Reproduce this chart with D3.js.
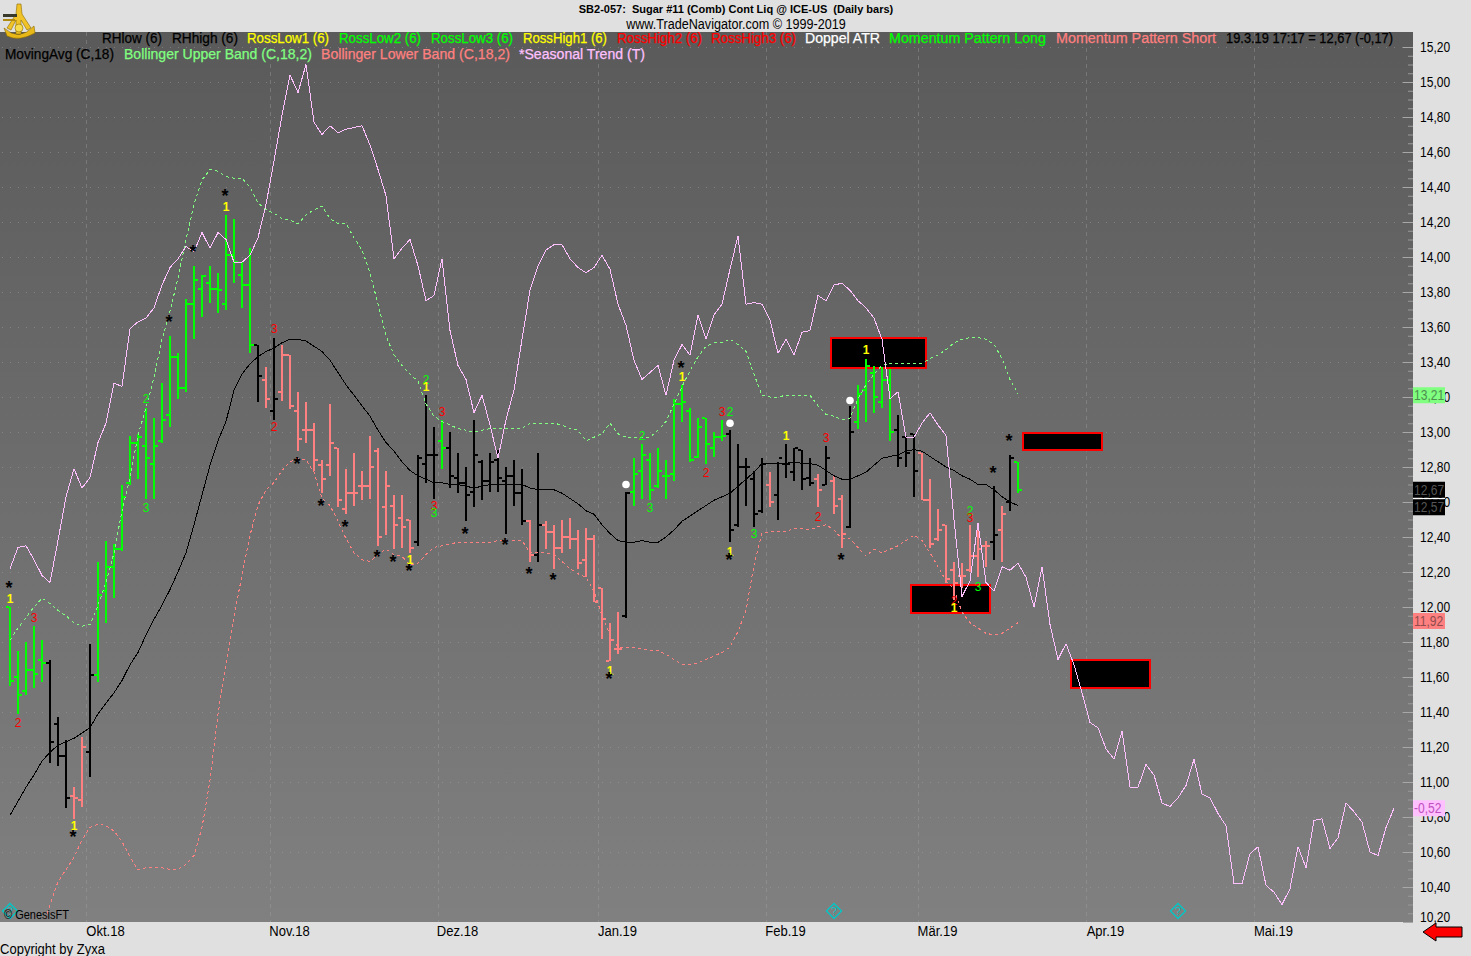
<!DOCTYPE html>
<html><head><meta charset="utf-8">
<script src="https://cdn.jsdelivr.net/npm/d3@7"></script>
<style>
html,body{margin:0;padding:0;background:#e0e0e0;overflow:hidden}
svg{display:block}
text{font-family:"Liberation Sans",Arial,sans-serif;white-space:pre}
</style></head><body>
<svg id="c" width="1471" height="956"></svg>
<script>
const highs=[12.00,11.75,11.80,11.89,11.81,11.70,11.37,11.24,10.97,11.26,11.79,12.26,12.38,12.36,12.70,12.98,12.99,13.14,13.08,13.28,13.55,13.45,13.76,13.95,13.90,13.95,13.91,14.24,14.22,13.97,14.05,13.50,13.37,13.54,13.50,13.44,13.23,13.17,13.05,12.84,13.16,12.91,12.79,12.88,12.78,12.98,12.91,12.78,12.64,12.64,12.50,12.87,13.21,13.03,13.07,13.00,12.88,12.80,13.07,12.84,12.88,12.90,12.80,12.84,12.79,12.50,12.88,12.49,12.47,12.50,12.51,12.44,12.45,12.41,12.11,11.91,11.97,12.66,12.85,12.93,12.88,12.91,12.84,13.19,13.27,13.14,13.08,13.08,13.00,13.07,13.01,12.93,12.85,12.78,12.85,12.77,12.83,12.93,12.91,12.90,12.85,12.76,12.92,12.75,12.64,13.15,13.27,13.42,13.38,13.37,13.36,13.10,12.98,12.99,12.88,12.73,12.56,12.47,12.26,12.25,12.47,12.46,12.38,12.69,12.58,12.87,12.83];
const lows=[11.55,11.39,11.50,11.54,11.57,11.11,11.09,10.85,10.79,10.86,11.03,11.57,11.91,12.05,12.32,12.70,12.73,12.62,12.62,12.94,13.03,13.19,13.23,13.53,13.66,13.74,13.68,13.70,13.85,13.71,13.45,13.17,13.14,13.07,13.18,13.13,12.89,12.94,12.78,12.65,12.75,12.57,12.53,12.58,12.61,12.62,12.35,12.41,12.33,12.34,12.31,12.35,12.71,12.62,12.79,12.68,12.65,12.49,12.57,12.61,12.66,12.66,12.42,12.58,12.47,12.26,12.26,12.33,12.22,12.31,12.33,12.22,12.17,12.03,11.82,11.69,11.73,11.94,12.58,12.62,12.61,12.68,12.62,12.72,13.06,12.83,12.85,12.82,12.86,12.95,12.37,12.46,12.58,12.46,12.54,12.57,12.50,12.74,12.72,12.67,12.69,12.57,12.70,12.53,12.34,12.45,13.02,13.06,13.11,13.14,12.95,12.80,12.80,12.63,12.61,12.34,12.38,12.14,12.04,12.11,12.20,12.17,12.23,12.27,12.26,12.55,12.65];
const opens=[12.00,11.60,11.52,11.64,11.70,11.68,11.33,11.15,10.92,10.90,11.17,11.61,12.09,12.23,12.33,12.71,12.94,12.92,12.82,12.95,13.10,13.43,13.25,13.73,13.82,13.85,13.82,13.73,14.01,13.90,13.84,13.50,13.30,13.12,13.23,13.44,13.12,13.01,13.01,12.81,12.81,12.91,12.56,12.65,12.69,12.69,12.89,12.57,12.58,12.51,12.50,12.37,12.82,12.87,12.95,12.91,12.74,12.71,12.66,12.83,12.72,12.84,12.72,12.75,12.65,12.49,12.30,12.47,12.43,12.34,12.40,12.39,12.27,12.39,12.11,11.69,11.76,11.95,12.66,12.78,12.84,12.69,12.75,12.76,13.16,13.12,12.86,13.08,12.91,12.97,12.99,12.47,12.80,12.73,12.55,12.70,12.64,12.82,12.77,12.90,12.74,12.73,12.70,12.72,12.62,12.46,13.06,13.24,13.34,13.17,13.30,13.01,12.97,12.99,12.88,12.61,12.39,12.47,12.21,12.18,12.21,12.29,12.35,12.37,12.44,12.60,12.83];
const closes=[11.58,11.50,11.64,11.62,11.68,11.23,11.15,10.91,10.91,11.20,11.61,12.07,12.23,12.33,12.63,12.94,12.97,12.85,12.92,13.07,13.43,13.25,13.73,13.87,13.89,13.82,13.81,14.01,13.97,13.84,13.50,13.32,13.19,13.19,13.44,13.15,12.96,13.01,12.84,12.73,12.94,12.61,12.65,12.65,12.69,12.80,12.40,12.69,12.47,12.46,12.34,12.85,12.87,12.87,12.91,12.75,12.71,12.64,12.87,12.72,12.83,12.74,12.75,12.65,12.49,12.30,12.47,12.43,12.34,12.40,12.39,12.25,12.39,12.03,11.93,11.81,11.76,12.65,12.76,12.87,12.67,12.78,12.75,13.16,13.17,12.84,13.03,12.93,12.97,12.98,12.44,12.80,12.80,12.53,12.82,12.60,12.85,12.82,12.91,12.73,12.71,12.67,12.85,12.58,12.42,13.00,13.22,13.38,13.20,13.30,13.00,12.85,12.88,12.78,12.61,12.36,12.44,12.16,12.14,12.18,12.29,12.33,12.35,12.41,12.53,12.85,12.67];
const barStates=("ggggg"+"kkk"+"ss"+"k"+"gggggggggggggggggggg"+"k"+"s"+"k"+"sssssssssssssssss"+"kkk"+"g"+"kkkkkkkkkk"+"s"+"k"+"ssssssssss"+"k"+"gggggggggggg"+"kkkkk"+"s"+"kkkkk"+"s"+"k"+"ss"+"k"+"ggggg"+"kkk"+"sssssssss"+"k"+"s"+"k"+"g").split("");
const movingAvg=[10.81,10.89,10.97,11.04,11.12,11.17,11.21,11.23,11.25,11.28,11.31,11.39,11.45,11.51,11.58,11.67,11.74,11.84,11.93,12.01,12.10,12.20,12.31,12.47,12.64,12.81,12.95,13.06,13.24,13.33,13.39,13.43,13.46,13.48,13.51,13.53,13.53,13.52,13.49,13.46,13.41,13.34,13.27,13.21,13.15,13.09,13.01,12.94,12.89,12.83,12.78,12.75,12.73,12.71,12.71,12.70,12.70,12.69,12.68,12.69,12.70,12.70,12.70,12.70,12.70,12.68,12.67,12.67,12.67,12.65,12.62,12.59,12.55,12.53,12.47,12.42,12.38,12.37,12.37,12.38,12.37,12.37,12.40,12.44,12.49,12.52,12.55,12.58,12.61,12.63,12.65,12.69,12.73,12.77,12.82,12.82,12.82,12.82,12.83,12.82,12.82,12.81,12.78,12.75,12.73,12.73,12.75,12.77,12.81,12.85,12.86,12.87,12.89,12.90,12.89,12.86,12.83,12.80,12.78,12.75,12.73,12.70,12.70,12.67,12.63,12.60,12.58];
const upperBand=[11.81,11.88,11.94,12.00,12.05,12.02,11.98,11.95,11.91,11.89,11.90,12.01,12.14,12.31,12.55,12.74,12.98,13.14,13.31,13.53,13.69,13.88,14.10,14.30,14.44,14.50,14.49,14.46,14.45,14.45,14.40,14.31,14.27,14.25,14.22,14.21,14.19,14.24,14.27,14.29,14.22,14.19,14.19,14.11,14.04,13.91,13.73,13.55,13.44,13.38,13.33,13.29,13.16,13.09,13.06,13.04,13.02,13.01,13.00,13.01,13.02,13.02,13.02,13.02,13.02,13.05,13.05,13.05,13.05,13.04,13.02,13.01,12.95,12.97,12.99,13.05,12.99,12.97,12.97,12.97,12.97,13.01,13.06,13.16,13.26,13.35,13.43,13.49,13.51,13.51,13.53,13.50,13.46,13.33,13.21,13.20,13.20,13.21,13.21,13.21,13.21,13.15,13.10,13.09,13.07,13.08,13.19,13.27,13.33,13.38,13.39,13.39,13.39,13.39,13.39,13.42,13.44,13.47,13.51,13.53,13.54,13.54,13.53,13.50,13.42,13.30,13.22];
const lowerBand=[null,null,null,null,10.15,10.30,10.43,10.50,10.57,10.67,10.74,10.76,10.75,10.72,10.66,10.57,10.50,10.51,10.51,10.51,10.50,10.50,10.53,10.58,10.74,11.01,11.39,11.67,11.95,12.18,12.41,12.58,12.67,12.71,12.78,12.83,12.85,12.84,12.77,12.62,12.58,12.49,12.39,12.31,12.27,12.26,12.30,12.33,12.30,12.29,12.24,12.25,12.30,12.34,12.35,12.36,12.37,12.37,12.37,12.37,12.37,12.38,12.38,12.38,12.38,12.31,12.31,12.31,12.30,12.26,12.22,12.19,12.17,12.09,11.95,11.84,11.77,11.77,11.77,11.76,11.75,11.75,11.73,11.70,11.67,11.67,11.68,11.70,11.72,11.74,11.77,11.86,11.98,12.24,12.42,12.43,12.43,12.43,12.45,12.45,12.44,12.46,12.47,12.44,12.39,12.39,12.34,12.29,12.33,12.31,12.33,12.35,12.38,12.41,12.38,12.31,12.23,12.15,12.10,11.97,11.91,11.88,11.85,11.84,11.85,11.88,11.91];
const seasonal=[12.22,12.34,12.35,12.27,12.18,12.14,12.38,12.63,12.79,12.68,12.74,12.94,13.05,13.28,13.26,13.59,13.63,13.65,13.71,13.84,13.94,13.99,14.06,14.03,14.14,14.05,14.14,14.10,13.97,13.97,14.01,14.11,14.30,14.55,14.81,15.04,14.94,15.10,14.77,14.70,14.75,14.71,14.73,14.74,14.75,14.64,14.50,14.35,13.99,14.05,14.10,13.95,13.75,13.78,13.99,13.58,13.38,13.30,13.11,13.21,13.04,12.85,13.07,13.24,13.53,13.81,13.95,14.04,14.07,14.07,13.99,13.94,13.91,13.94,14.01,13.93,13.73,13.61,13.41,13.30,13.34,13.38,13.21,13.41,13.50,13.44,13.67,13.53,13.67,13.73,13.93,14.12,13.73,13.74,13.73,13.64,13.45,13.53,13.44,13.57,13.58,13.78,13.75,13.84,13.85,13.81,13.75,13.71,13.65,13.53,13.19,13.23,12.97,12.97,13.05,13.11,13.04,12.98,12.50,12.06,12.15,12.48,12.14,12.09,12.23,12.21,12.25,12.17,12.00,12.23,11.90,11.70,11.79,11.67,11.51,11.34,11.31,11.19,11.13,11.29,10.97,10.97,11.10,11.04,10.88,10.86,10.91,10.98,11.13,10.93,10.91,10.82,10.75,10.42,10.42,10.59,10.63,10.41,10.37,10.30,10.39,10.63,10.51,10.78,10.79,10.62,10.68,10.88,10.83,10.77,10.60,10.58,10.74,10.85];
const rossIdx=[0,3,1,8,27,17,17,33,33,50,52,52,54,53,53,75,84,79,80,89,90,87,90,97,102,101,93,107,120,120,121,118,118];
const rossPrice=[12.05,11.94,11.34,10.75,14.29,13.19,12.57,13.59,13.03,12.27,13.30,13.26,13.12,12.58,12.54,11.64,13.32,12.98,12.57,13.12,13.12,12.77,12.32,12.98,12.97,12.52,12.42,13.47,12.55,12.51,12.12,12.04,12.00];
const rossText=["1","3","2","1","1","2","3","3","2","1","2","1","3","3","3","1","1","2","3","3","2","2","1","1","3","2","3","1","2","3","3","2","1"];
const rossKind=["y","r","r","y","y","g","g","r","r","y","g","y","r","r","g","y","y","g","g","r","g","r","y","y","r","r","g","y","g","r","g","r","y"];
const starIdx=[0,8,27,20,23,36,39,42,46,48,50,57,62,65,68,75,84,90,104,123,125];
const starPrice=[12.13,10.71,14.37,13.65,14.05,12.84,12.60,12.48,12.31,12.28,12.23,12.44,12.38,12.21,12.18,11.61,13.39,12.29,12.29,12.79,12.97];
const dotIdx=[77,90,105];
const dotPrice=[12.70,13.05,13.18];
const boxFrom=[103,113,127,133];
const boxTo=[114,122,136,142];
const boxTop=[13.54,12.13,13.00,11.70];
const boxBottom=[13.37,11.97,12.90,11.54];
const diamondIdx=[0,103,146];
const yTicks=[15.2,15,14.8,14.6,14.4,14.2,14,13.8,13.6,13.4,13.2,13,12.8,12.6,12.4,12.2,12,11.8,11.6,11.4,11.2,11,10.8,10.6,10.4,10.2];
const monthIdx=[10,33,54,74,95,114,135,156];
const monthLabels=["Okt.18","Nov.18","Dez.18","Jan.19","Feb.19","Mär.19","Apr.19","Mai.19"];
const legendRow1=["RHlow (6)","RHhigh (6)","RossLow1 (6)","RossLow2 (6)","RossLow3 (6)","RossHigh1 (6)","RossHigh2 (6)","RossHigh3 (6)","Doppel ATR","Momentum Pattern Long","Momentum Pattern Short","19.3.19 17:17 = 12,67 (-0,17)"];
const legendRow1Colors=["#000","#000","#ffff00","#00ff00","#00ff00","#ffff00","#ff0000","#ff0000","#fff","#00ff00","#ff8080","#000"];
const legendRow1X=[102,172,247,339,431,523,617,711,805,889,1056,1226];
const legendRow1W=[60,66,82,82,82,84,85,85,75,157,160,167];
const legendRow2=["MovingAvg (C,18)","Bollinger Upper Band (C,18,2)","Bollinger Lower Band (C,18,2)","*Seasonal Trend (T)"];
const legendRow2Colors=["#000","#80ff80","#ff8080","#ffc0ff"];
const legendRow2X=[5,124,321,519];
const legendRow2W=[109,188,189,126];
const priceTagValues=["13,21","12,67","12,57","11,92","-0,52"];
const priceTagPrices=[13.21,12.67,12.57,11.92,10.85];
const priceTagBg=["#80ff80","#000","#000","#ff8080","#ffc0ff"];
const priceTagFg=["#4d8f4d","#555","#555","#8f4d4d","#c050c0"];

const W=1413,T=32,B=922;
const x=d3.scaleLinear().domain([0,1]).range([10,18]);
const y=d3.scaleLinear().domain([15.2,14.2]).range([47,222]);
const svg=d3.select("#c");
const defs=svg.append("defs");
const gr=defs.append("linearGradient").attr("id","bg").attr("x1",0).attr("x2",0).attr("y1",0).attr("y2",1);
gr.append("stop").attr("offset",0).attr("stop-color","#5a5a5a");
gr.append("stop").attr("offset",1).attr("stop-color","#808080");
defs.append("clipPath").attr("id","plot").append("rect").attr("x",0).attr("y",T).attr("width",W).attr("height",B-T);
svg.append("rect").attr("width",1471).attr("height",956).attr("fill","#e0e0e0");
svg.append("rect").attr("x",0).attr("y",T).attr("width",W).attr("height",B-T).attr("fill","url(#bg)");

// grid
const grid=svg.append("g").attr("shape-rendering","crispEdges");
grid.selectAll(".h").data(yTicks.slice(0,-1)).join("line").attr("x1",2).attr("x2",W).attr("y1",d=>y(d)).attr("y2",d=>y(d))
 .attr("stroke","#a0a0a0").attr("stroke-opacity",.5).attr("stroke-dasharray","1 7");
grid.selectAll(".v").data(monthIdx).join("line").attr("x1",d=>x(d)-3.5).attr("x2",d=>x(d)-3.5).attr("y1",T).attr("y2",B)
 .attr("stroke","#a8a8a8").attr("stroke-opacity",.35).attr("stroke-dasharray","4 4");

const plot=svg.append("g").attr("clip-path","url(#plot)");
// boxes
plot.selectAll(".box").data(boxFrom).join("rect").attr("shape-rendering","crispEdges")
 .attr("x",(d,i)=>x(d)-3.5).attr("width",(d,i)=>x(boxTo[i])-x(d)+7)
 .attr("y",(d,i)=>y(boxTop[i])+.5).attr("height",(d,i)=>y(boxBottom[i])-y(boxTop[i]))
 .attr("fill","#000").attr("stroke","#f00").attr("stroke-width",2);

// bars
const barColor={g:"#00ff00",k:"#000",s:"#ff8080"};
const bars=plot.append("g").attr("shape-rendering","crispEdges");
highs.forEach((h,i)=>{
 const c=barColor[barStates[i]],g=bars.append("g").attr("fill",c),X=Math.round(x(i));
 g.append("rect").attr("x",X-1).attr("width",2).attr("y",y(h)).attr("height",y(lows[i])-y(h));
 g.append("rect").attr("x",X-4).attr("width",3).attr("y",y(opens[i])-1).attr("height",2);
 g.append("rect").attr("x",X+1).attr("width",3).attr("y",y(closes[i])-1).attr("height",2);
});

// lines
const line=d3.line().defined(d=>d!==null).x((d,i)=>x(i)).y(d=>y(d));
function drawLine(data,color,dash){
 const p=plot.append("path").attr("d",line(data)).attr("fill","none").attr("stroke",color).attr("stroke-width",1).attr("shape-rendering","crispEdges");
 if(dash)p.attr("stroke-dasharray",dash);
 return p;
}
drawLine(upperBand,"#80ff80","3 3");
drawLine(lowerBand,"#ff8080","3 3");
drawLine(movingAvg,"#000");
drawLine(seasonal,"#ffc0ff");

// Ross labels
const rossColor={y:"#ffff00",r:"#ff0000",g:"#00ff00"};
plot.selectAll(".ross").data(rossIdx).join("text").attr("x",d=>x(d)).attr("y",(d,i)=>y(rossPrice[i])+4.5)
 .attr("text-anchor","middle").attr("font-size",12).attr("font-weight",(d,i)=>rossKind[i]==="y"?"bold":"normal")
 .attr("fill",(d,i)=>rossColor[rossKind[i]]).text((d,i)=>rossText[i]);
// stars
plot.selectAll(".star").data(starIdx).join("text").attr("x",d=>x(d)-1).attr("y",(d,i)=>y(starPrice[i])+10)
 .attr("text-anchor","middle").attr("font-size",18).attr("font-weight","bold").attr("fill","#000").text("*");
// dots
plot.selectAll(".dot").data(dotIdx).join("circle").attr("cx",d=>x(d)).attr("cy",(d,i)=>y(dotPrice[i])).attr("r",3.8).attr("fill","#fff");
// diamonds
const dg=plot.selectAll(".dia").data(diamondIdx).join("g").attr("transform",d=>`translate(${x(d)},911)`);
dg.append("path").attr("d","M0,-7.5L7.5,0L0,7.5L-7.5,0Z").attr("fill","none").attr("stroke","#00c8c8").attr("stroke-width",1.3);
dg.append("text").attr("text-anchor","middle").attr("y",3.5).attr("font-size",10).attr("fill","#00c8c8").text("?");

svg.append("text").attr("x",4).attr("y",919).attr("font-size",12).attr("fill","#000").attr("textLength",65).attr("lengthAdjust","spacingAndGlyphs").text("© GenesisFT");

function squeeze(sel,f){sel.each(function(){const l=this.getComputedTextLength();d3.select(this).attr("textLength",l*f).attr("lengthAdjust","spacingAndGlyphs");});}

// y axis
const axMinor=d3.axisRight(y).tickValues(d3.range(10.2,15.2001,.05)).tickSize(-5).tickFormat("");
const gm=svg.append("g").attr("transform",`translate(${W},0)`).call(axMinor);
gm.select(".domain").remove();gm.selectAll("line").attr("stroke","#9a9a9a");
const axMajor=d3.axisRight(y).tickValues(yTicks).tickSize(-10).tickPadding(7).tickFormat(d=>d3.format(".2f")(d).replace(".",","));
const gy=svg.append("g").attr("transform",`translate(${W},0)`).call(axMajor);
gy.select(".domain").remove();gy.selectAll("line").attr("stroke","#a8a8a8");
gy.selectAll("text").attr("font-size",14).attr("font-family","Liberation Sans").attr("fill","#000").call(squeeze,.86);
gy.selectAll(".tick").filter(d=>d===10.2).select("text").attr("y",-5);

// x axis
const axX=d3.axisBottom(x).tickValues(monthIdx).tickSize(0).tickPadding(4).tickFormat((d,i)=>monthLabels[i]);
const gx=svg.append("g").attr("transform",`translate(0,${B})`).call(axX);
gx.select(".domain").remove();
gx.selectAll("text").attr("x",15).attr("font-size",14).attr("font-family","Liberation Sans").attr("fill","#000").call(squeeze,.93);

// price tags
const tag=svg.selectAll(".tag").data(priceTagValues).join("g").attr("transform",(d,i)=>`translate(${W},${y(priceTagPrices[i])})`);
tag.append("rect").attr("x",0).attr("y",-8).attr("width",32).attr("height",16).attr("fill",(d,i)=>priceTagBg[i]);
tag.append("text").attr("x",1).attr("y",5).attr("font-size",14).attr("fill",(d,i)=>priceTagFg[i]).text(d=>d).call(squeeze,.86);
svg.append("rect").attr("x",W).attr("y",498).attr("width",32).attr("height",1).attr("fill","#fff");

// legends & titles
svg.selectAll(".l1").data(legendRow1).join("text").attr("x",(d,i)=>legendRow1X[i]).attr("y",43).attr("font-size",14).attr("fill",(d,i)=>legendRow1Colors[i]).attr("stroke",(d,i)=>legendRow1Colors[i]).attr("stroke-width",.25).attr("textLength",(d,i)=>legendRow1W[i]).attr("lengthAdjust","spacingAndGlyphs").text(d=>d);
svg.selectAll(".l2").data(legendRow2).join("text").attr("x",(d,i)=>legendRow2X[i]).attr("y",59).attr("font-size",14).attr("fill",(d,i)=>legendRow2Colors[i]).attr("stroke",(d,i)=>legendRow2Colors[i]).attr("stroke-width",.25).attr("textLength",(d,i)=>legendRow2W[i]).attr("lengthAdjust","spacingAndGlyphs").text(d=>d);
svg.append("text").attr("x",736).attr("y",13).attr("text-anchor","middle").attr("font-size",11).attr("font-weight","bold").attr("fill","#000").text("SB2-057:  Sugar #11 (Comb) Cont Liq @ ICE-US  (Daily bars)");
svg.append("text").attr("x",736).attr("y",29).attr("text-anchor","middle").attr("font-size",14).attr("fill","#000").text("www.TradeNavigator.com © 1999-2019").call(squeeze,.9);
svg.append("text").attr("x",0).attr("y",953.5).attr("font-size",14).attr("fill","#000").text("Copyright by Zyxa").call(squeeze,.93);

// arrow
svg.append("path").attr("d","M1423,932L1436,923L1436,927L1462,927L1462,937L1436,937L1436,941Z").attr("fill","#f00").attr("stroke","#000").attr("stroke-width",1);
// logo
const lg=svg.append("g").attr("transform","translate(3,4)");
lg.append("path").attr("d","M1,24 Q16,38 31,22 L32,29 Q16,38 4,32 Z").attr("fill","#e8b818").attr("stroke","#8a6a00").attr("stroke-width",.6);
lg.append("path").attr("d","M14,0 L18,0 L19,10 L28,24 L24,26 L18,16 L18,30 L13,30 L13,16 L8,26 L4,24 L13,10 Z").attr("fill","#f0c428").attr("stroke","#8a6a00").attr("stroke-width",.6);
lg.append("rect").attr("x",0).attr("y",10).attr("width",14).attr("height",3).attr("fill","#3a3a2a");
lg.append("rect").attr("x",0).attr("y",15).attr("width",12).attr("height",2).attr("fill","#b08a10");
lg.append("circle").attr("cx",16).attr("cy",24).attr("r",4).attr("fill","#f8dc50").attr("stroke","#8a6a00").attr("stroke-width",.6);
</script>
</body></html>
